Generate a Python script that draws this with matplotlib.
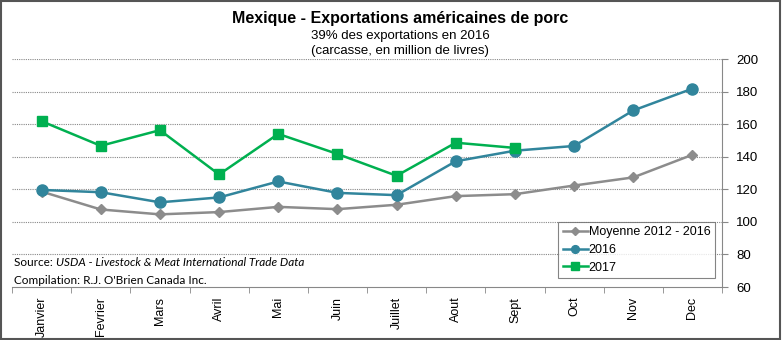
import matplotlib as mpl
mpl.use("agg")
import matplotlib.pyplot as plt
from matplotlib.patches import Rectangle

plt.rcParams["font.family"] = ["Liberation Sans", "DejaVu Sans"]

color_avg = "#8c8c8c"
color_2016 = "#31859c"
color_2017 = "#00b050"

months = ["Janvier", "Fevrier", "Mars", "Avril", "Mai", "Juin",
          "Juillet", "Aout", "Sept", "Oct", "Nov", "Dec"]
moyenne = [118.6, 107.6, 104.6, 106.0, 109.2, 107.8,
           110.5, 115.8, 117.0, 122.3, 127.3, 141.2]
y2016 = [119.6, 118.2, 112.0, 115.0, 124.8, 117.8,
         116.4, 137.2, 143.7, 146.6, 168.4, 181.8]
y2017 = [161.8, 146.7, 156.3, 129.1, 154.0, 141.7,
         128.3, 148.6, 145.4]

fig = plt.figure(figsize=(7.82, 3.40), dpi=100)
ax = fig.add_axes([12 / 782, 53 / 340, 710 / 782, 228 / 340])

x = list(range(len(months)))
ax.plot(x, moyenne, color=color_avg, lw=1.8, marker="D", ms=5.5,
        label="Moyenne 2012 - 2016", zorder=3)
ax.plot(x, y2016, color=color_2016, lw=1.8, marker="o", ms=8,
        label="2016", zorder=4)
ax.plot(x[:len(y2017)], y2017, color=color_2017, lw=1.8, marker="s", ms=7.5,
        label="2017", zorder=5)

ax.set_xlim(-0.5, len(months) - 0.5)
ax.set_ylim(60, 200)
ax.set_yticks(range(60, 201, 20))
ax.yaxis.tick_right()
ax.tick_params(axis="y", direction="out", length=4, color="#888888",
               labelsize=9.5, pad=6)
ax.set_xticks(x)
ax.set_xticklabels(months, rotation=90, fontsize=9)
ax.set_xticks([i - 0.5 for i in range(len(months) + 1)], minor=True)
ax.tick_params(axis="x", which="major", length=0, pad=7)
ax.tick_params(axis="x", which="minor", direction="out", length=4, color="#888888")

for v in range(80, 201, 20):
    ax.axhline(v, color="#888888", lw=0.8, ls=(0, (1, 1)), zorder=1)

for s in ["top", "left"]:
    ax.spines[s].set_visible(False)
ax.spines["right"].set_color("#888888")
ax.spines["bottom"].set_color("#888888")

leg = ax.legend(loc="lower right", bbox_to_anchor=(0.99, 0.04), fontsize=9,
                frameon=True, fancybox=False, handlelength=2, handletextpad=0.1,
                borderpad=0.35, labelspacing=0.45, borderaxespad=0,
                markerscale=0.7)
leg.get_frame().set_edgecolor("#666666")
leg.get_frame().set_linewidth(0.8)

fig.text(0.512, 0.945, "Mexique - Exportations américaines de porc",
         ha="center", va="center", fontsize=11.5, fontweight="bold")
fig.text(0.512, 0.893, "39% des exportations en 2016",
         ha="center", va="center", fontsize=9.5)
fig.text(0.512, 0.850, "(carcasse, en million de livres)",
         ha="center", va="center", fontsize=9.5)

fig.text(14 / 782, 1 - 263 / 340, "Source: ", ha="left", va="center",
         fontsize=8.5, family="Lato")
fig.text(56 / 782, 1 - 263 / 340, "USDA - Livestock & Meat International Trade Data",
         ha="left", va="center", fontsize=8.5, family="Lato", style="italic")
fig.text(14 / 782, 1 - 280 / 340, "Compilation: R.J. O'Brien Canada Inc.",
         ha="left", va="center", fontsize=8.5, family="Lato")

fig.patches.append(Rectangle((0.001, 0.002), 0.997, 0.995, transform=fig.transFigure,
                             fill=False, edgecolor="#555555", lw=1.5))

fig.savefig("out.png", dpi=100)
